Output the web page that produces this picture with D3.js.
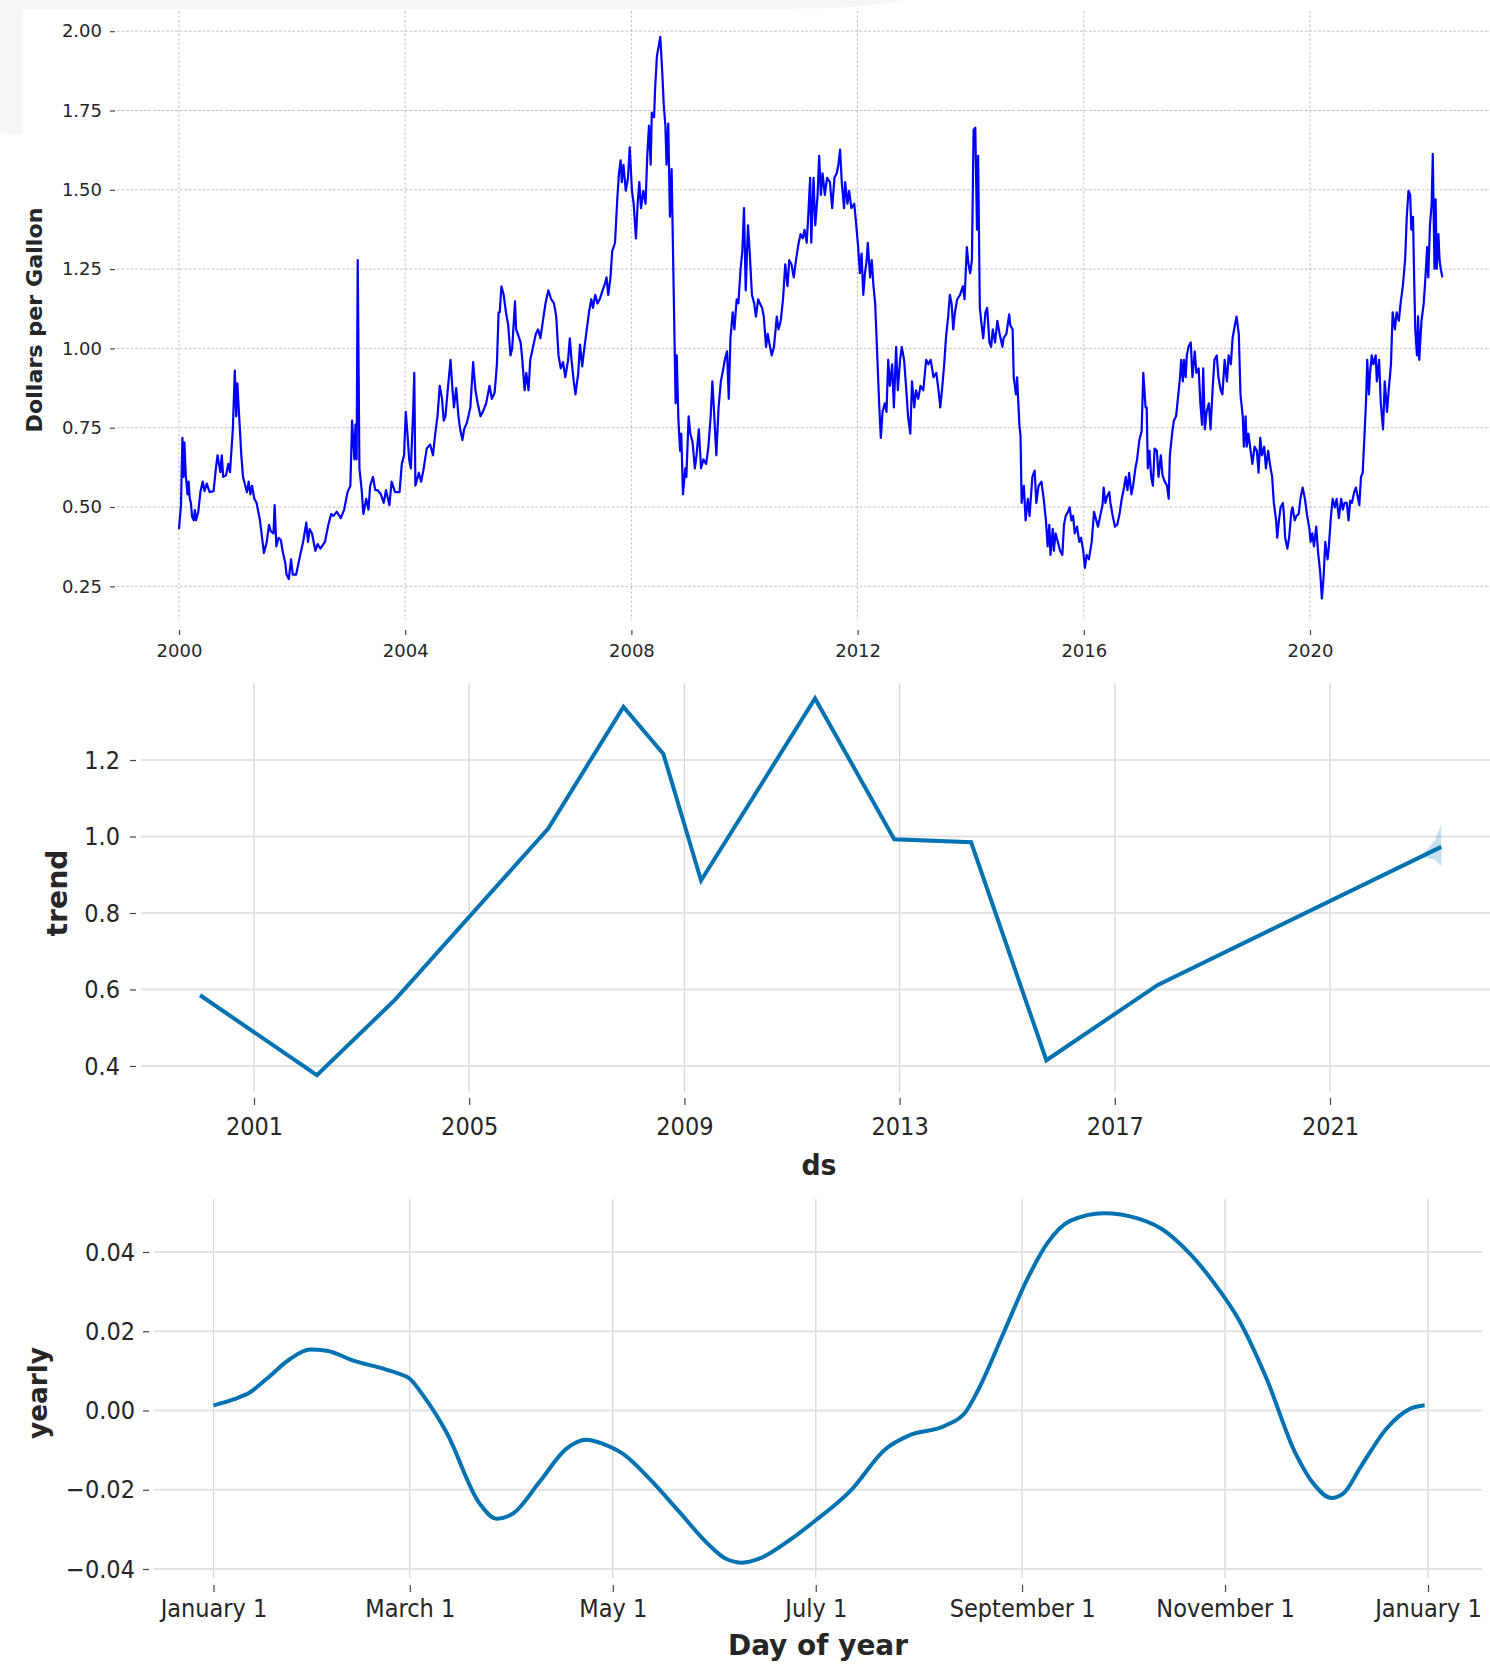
<!DOCTYPE html>
<html>
<head>
<meta charset="utf-8">
<script src="https://cdn.jsdelivr.net/npm/d3@7"></script>
<style>
  body { margin: 0; background: #fff; }
  svg text { fill: #262626; }
</style>
</head>
<body>
<script>
// weekly price (decimal year, dollars per gallon)
const priceYears = [
  2000.00, 2000.035, 2000.06, 2000.08, 2000.095, 2000.12, 2000.15, 2000.17, 2000.19, 2000.21,
  2000.23, 2000.26, 2000.28, 2000.30, 2000.34, 2000.38, 2000.42, 2000.45, 2000.49, 2000.54,
  2000.61, 2000.65, 2000.68, 2000.73, 2000.755, 2000.78, 2000.83, 2000.87, 2000.90, 2000.95,
  2000.985, 2001.01, 2001.03, 2001.07, 2001.10, 2001.13, 2001.17, 2001.20, 2001.23, 2001.26,
  2001.29, 2001.33, 2001.37, 2001.43, 2001.50, 2001.55, 2001.59, 2001.62, 2001.67, 2001.69,
  2001.72, 2001.76, 2001.80, 2001.83, 2001.88, 2001.90, 2001.94, 2001.98, 2002.01, 2002.07,
  2002.11, 2002.15, 2002.20, 2002.25, 2002.28, 2002.31, 2002.35, 2002.41, 2002.45, 2002.50,
  2002.58, 2002.64, 2002.69, 2002.73, 2002.79, 2002.86, 2002.92, 2002.98, 2003.03, 2003.06,
  2003.10, 2003.12, 2003.14, 2003.16, 2003.19, 2003.23, 2003.26, 2003.31, 2003.35, 2003.38,
  2003.43, 2003.47, 2003.51, 2003.57, 2003.62, 2003.66, 2003.72, 2003.76, 2003.82, 2003.90,
  2003.94, 2003.98, 2004.01, 2004.04, 2004.07, 2004.10, 2004.14, 2004.16, 2004.18, 2004.24,
  2004.28, 2004.32, 2004.38, 2004.44, 2004.49, 2004.53, 2004.57, 2004.61, 2004.65, 2004.68,
  2004.71, 2004.75, 2004.80, 2004.83, 2004.86, 2004.90, 2004.94, 2004.97, 2005.01, 2005.04,
  2005.09, 2005.15, 2005.20, 2005.24, 2005.28, 2005.33, 2005.37, 2005.43, 2005.49, 2005.53,
  2005.58, 2005.62, 2005.65, 2005.67, 2005.70, 2005.74, 2005.78, 2005.82, 2005.86, 2005.89,
  2005.94, 2005.96, 2005.99, 2006.04, 2006.07, 2006.11, 2006.14, 2006.18, 2006.21, 2006.26,
  2006.31, 2006.35, 2006.39, 2006.44, 2006.48, 2006.53, 2006.58, 2006.63, 2006.67, 2006.71,
  2006.75, 2006.79, 2006.83, 2006.88, 2006.91, 2006.94, 2006.98, 2007.01, 2007.06, 2007.09,
  2007.13, 2007.16, 2007.20, 2007.25, 2007.29, 2007.32, 2007.36, 2007.40, 2007.44, 2007.49,
  2007.53, 2007.56, 2007.59, 2007.63, 2007.66, 2007.71, 2007.75, 2007.78, 2007.81, 2007.83,
  2007.86, 2007.90, 2007.94, 2007.97, 2008.01, 2008.04, 2008.08, 2008.11, 2008.14, 2008.17,
  2008.21, 2008.25, 2008.28, 2008.31, 2008.34, 2008.36, 2008.40, 2008.42, 2008.45, 2008.51,
  2008.55, 2008.57, 2008.60, 2008.62, 2008.65, 2008.68, 2008.71, 2008.75, 2008.78, 2008.80,
  2008.83, 2008.86, 2008.88, 2008.91, 2008.95, 2008.97, 2009.01, 2009.04, 2009.08, 2009.12,
  2009.15, 2009.19, 2009.23, 2009.27, 2009.32, 2009.36, 2009.40, 2009.43, 2009.46, 2009.50,
  2009.54, 2009.58, 2009.61, 2009.65, 2009.69, 2009.72, 2009.75, 2009.79, 2009.82, 2009.86,
  2009.89, 2009.93, 2009.96, 2009.99, 2010.02, 2010.06, 2010.09, 2010.13, 2010.17, 2010.20,
  2010.24, 2010.27, 2010.31, 2010.34, 2010.38, 2010.41, 2010.45, 2010.48, 2010.52, 2010.57,
  2010.60, 2010.64, 2010.68, 2010.72, 2010.76, 2010.79, 2010.83, 2010.87, 2010.91, 2010.95,
  2010.99, 2011.03, 2011.06, 2011.10, 2011.13, 2011.16, 2011.18, 2011.22, 2011.25, 2011.29,
  2011.32, 2011.35, 2011.38, 2011.42, 2011.46, 2011.51, 2011.55, 2011.59, 2011.63, 2011.66,
  2011.69, 2011.72, 2011.76, 2011.78, 2011.82, 2011.85, 2011.89, 2011.94, 2011.97, 2012.01,
  2012.04, 2012.07, 2012.10, 2012.13, 2012.16, 2012.18, 2012.22, 2012.25, 2012.28, 2012.31,
  2012.35, 2012.38, 2012.41, 2012.44, 2012.48, 2012.51, 2012.54, 2012.57, 2012.61, 2012.64,
  2012.68, 2012.71, 2012.75, 2012.78, 2012.82, 2012.86, 2012.89, 2012.93, 2012.96, 2013.00,
  2013.03, 2013.07, 2013.11, 2013.16, 2013.21, 2013.25, 2013.29, 2013.34, 2013.39, 2013.43,
  2013.46, 2013.49, 2013.53, 2013.56, 2013.60, 2013.63, 2013.66, 2013.69, 2013.72, 2013.76,
  2013.81, 2013.86, 2013.89, 2013.93, 2013.96, 2013.99, 2014.02, 2014.05, 2014.08, 2014.11,
  2014.13, 2014.16, 2014.20, 2014.22, 2014.26, 2014.29, 2014.33, 2014.36, 2014.39, 2014.43,
  2014.47, 2014.51, 2014.56, 2014.58, 2014.63, 2014.68, 2014.70, 2014.74, 2014.76, 2014.80,
  2014.82, 2014.86, 2014.88, 2014.90, 2014.94, 2014.97, 2015.01, 2015.04, 2015.09, 2015.13,
  2015.16, 2015.20, 2015.25, 2015.29, 2015.33, 2015.36, 2015.39, 2015.41, 2015.45, 2015.47,
  2015.50, 2015.54, 2015.58, 2015.62, 2015.65, 2015.68, 2015.72, 2015.75, 2015.78, 2015.81,
  2015.84, 2015.88, 2015.92, 2015.95, 2015.99, 2016.02, 2016.05, 2016.09, 2016.14, 2016.18,
  2016.21, 2016.25, 2016.29, 2016.33, 2016.35, 2016.38, 2016.41, 2016.45, 2016.47, 2016.51,
  2016.55, 2016.59, 2016.63, 2016.67, 2016.71, 2016.74, 2016.77, 2016.80, 2016.84, 2016.87,
  2016.91, 2016.94, 2016.98, 2017.02, 2017.05, 2017.09, 2017.11, 2017.13, 2017.16, 2017.19,
  2017.22, 2017.25, 2017.29, 2017.32, 2017.36, 2017.39, 2017.43, 2017.47, 2017.50, 2017.52,
  2017.56, 2017.59, 2017.63, 2017.67, 2017.70, 2017.72, 2017.75, 2017.77, 2017.80, 2017.82,
  2017.85, 2017.89, 2017.92, 2017.96, 2017.99, 2018.03, 2018.06, 2018.09, 2018.11, 2018.14,
  2018.17, 2018.21, 2018.24, 2018.28, 2018.31, 2018.35, 2018.38, 2018.42, 2018.45, 2018.49,
  2018.53, 2018.56, 2018.60, 2018.63, 2018.67, 2018.70, 2018.74, 2018.77, 2018.81, 2018.83,
  2018.86, 2018.88, 2018.91, 2018.95, 2018.98, 2019.02, 2019.06, 2019.09, 2019.12, 2019.15,
  2019.19, 2019.22, 2019.26, 2019.29, 2019.33, 2019.36, 2019.40, 2019.42, 2019.45, 2019.48,
  2019.52, 2019.54, 2019.56, 2019.60, 2019.63, 2019.67, 2019.69, 2019.73, 2019.76, 2019.80,
  2019.83, 2019.87, 2019.91, 2019.95, 2019.99, 2020.01, 2020.04, 2020.07, 2020.11, 2020.14,
  2020.18, 2020.21, 2020.24, 2020.27, 2020.31, 2020.33, 2020.37, 2020.40, 2020.44, 2020.47,
  2020.51, 2020.55, 2020.58, 2020.61, 2020.65, 2020.68, 2020.71, 2020.74, 2020.78, 2020.81,
  2020.85, 2020.87, 2020.90, 2020.93, 2020.97, 2020.99, 2021.01, 2021.04, 2021.06, 2021.09,
  2021.12, 2021.16, 2021.18, 2021.22, 2021.25, 2021.29, 2021.32, 2021.36, 2021.39, 2021.43,
  2021.46, 2021.50, 2021.53, 2021.57, 2021.60, 2021.64, 2021.68, 2021.71, 2021.74, 2021.77,
  2021.79, 2021.82, 2021.84, 2021.86, 2021.89, 2021.91, 2021.93, 2021.97, 2022.01, 2022.04,
  2022.07, 2022.09, 2022.12, 2022.15, 2022.17, 2022.20, 2022.22, 2022.24, 2022.27, 2022.29,
  2022.31, 2022.34
];
const priceValues = [
  0.430, 0.506, 0.718, 0.595, 0.704, 0.600, 0.540, 0.580, 0.526, 0.513,
  0.470, 0.458, 0.490, 0.458, 0.485, 0.550, 0.580, 0.550, 0.574, 0.547,
  0.550, 0.620, 0.663, 0.610, 0.663, 0.595, 0.600, 0.636, 0.610, 0.745,
  0.930, 0.786, 0.890, 0.760, 0.663, 0.595, 0.567, 0.547, 0.580, 0.540,
  0.567, 0.526, 0.513, 0.458, 0.355, 0.390, 0.444, 0.424, 0.417, 0.506,
  0.376, 0.403, 0.396, 0.362, 0.321, 0.287, 0.273, 0.335, 0.287, 0.287,
  0.321, 0.355, 0.396, 0.451, 0.390, 0.430, 0.417, 0.362, 0.383, 0.369,
  0.390, 0.444, 0.478, 0.472, 0.485, 0.465, 0.492, 0.547, 0.567, 0.772,
  0.650, 0.760, 0.650, 1.278, 0.622, 0.553, 0.478, 0.526, 0.492, 0.567,
  0.595, 0.553, 0.553, 0.540, 0.513, 0.553, 0.506, 0.580, 0.547, 0.547,
  0.636, 0.663, 0.800, 0.731, 0.650, 0.622, 0.800, 0.923, 0.567, 0.608,
  0.580, 0.615, 0.684, 0.697, 0.663, 0.731, 0.786, 0.882, 0.841, 0.772,
  0.786, 0.868, 0.964, 0.882, 0.814, 0.875, 0.786, 0.745, 0.711, 0.745,
  0.766, 0.814, 0.957, 0.868, 0.827, 0.786, 0.800, 0.827, 0.882, 0.841,
  0.861, 0.950, 1.114, 1.114, 1.196, 1.169, 1.114, 1.073, 0.978, 0.999,
  1.148, 1.060, 1.046, 1.019, 0.964, 0.868, 0.923, 0.868, 0.964, 1.005,
  1.046, 1.060, 1.032, 1.094, 1.142, 1.183, 1.155, 1.142, 1.100, 0.978,
  0.937, 0.957, 0.909, 0.964, 1.032, 0.964, 0.896, 0.855, 0.923, 1.012,
  0.943, 0.991, 1.046, 1.114, 1.155, 1.128, 1.169, 1.142, 1.155, 1.183,
  1.203, 1.224, 1.169, 1.224, 1.306, 1.333, 1.470, 1.552, 1.593, 1.524,
  1.579, 1.497, 1.538, 1.634, 1.497, 1.456, 1.347, 1.456, 1.524, 1.442,
  1.497, 1.456, 1.607, 1.702, 1.579, 1.743, 1.729, 1.825, 1.921, 1.982,
  1.852, 1.770, 1.702, 1.579, 1.709, 1.415, 1.565, 1.142, 0.827, 0.978,
  0.773, 0.677, 0.731, 0.540, 0.622, 0.595, 0.786, 0.731, 0.704, 0.622,
  0.663, 0.745, 0.622, 0.650, 0.636, 0.690, 0.786, 0.896, 0.800, 0.663,
  0.814, 0.896, 0.923, 0.964, 0.991, 0.841, 1.032, 1.114, 1.060, 1.155,
  1.142, 1.251, 1.306, 1.442, 1.183, 1.388, 1.306, 1.169, 1.142, 1.100,
  1.155, 1.142, 1.128, 1.100, 1.005, 1.046, 1.005, 0.978, 1.005, 1.100,
  1.060, 1.087, 1.155, 1.265, 1.196, 1.278, 1.265, 1.224, 1.278, 1.326,
  1.360, 1.347, 1.374, 1.333, 1.429, 1.538, 1.333, 1.538, 1.388, 1.477,
  1.607, 1.484, 1.552, 1.484, 1.538, 1.524, 1.442, 1.538, 1.552, 1.579,
  1.627, 1.524, 1.442, 1.524, 1.456, 1.497, 1.442, 1.456, 1.401, 1.319,
  1.237, 1.299, 1.169, 1.237, 1.278, 1.333, 1.224, 1.278, 1.196, 1.142,
  0.964, 0.827, 0.718, 0.800, 0.827, 0.800, 0.964, 0.882, 0.950, 0.814,
  1.005, 0.868, 0.964, 1.005, 0.964, 0.868, 0.786, 0.731, 0.896, 0.814,
  0.868, 0.841, 0.882, 0.868, 0.964, 0.950, 0.964, 0.909, 0.923, 0.868,
  0.814, 0.868, 0.950, 1.032, 1.100, 1.169, 1.142, 1.060, 1.114, 1.155,
  1.169, 1.196, 1.155, 1.319, 1.265, 1.237, 1.278, 1.689, 1.696, 1.374,
  1.607, 1.128, 1.060, 1.032, 1.114, 1.128, 1.019, 1.005, 1.060, 1.019,
  1.087, 1.046, 1.005, 1.032, 1.046, 1.107, 1.073, 1.060, 0.909, 0.855,
  0.909, 0.759, 0.725, 0.513, 0.567, 0.458, 0.526, 0.472, 0.595, 0.615,
  0.513, 0.567, 0.580, 0.526, 0.458, 0.376, 0.444, 0.349, 0.431, 0.362,
  0.417, 0.390, 0.362, 0.349, 0.444, 0.472, 0.485, 0.499, 0.458, 0.472,
  0.417, 0.438, 0.390, 0.403, 0.362, 0.308, 0.349, 0.335, 0.390, 0.485,
  0.465, 0.438, 0.472, 0.506, 0.561, 0.513, 0.533, 0.547, 0.513, 0.472,
  0.438, 0.444, 0.478, 0.526, 0.561, 0.595, 0.553, 0.608, 0.540, 0.567,
  0.622, 0.650, 0.711, 0.738, 0.923, 0.814, 0.814, 0.622, 0.677, 0.595,
  0.567, 0.684, 0.677, 0.595, 0.663, 0.600, 0.580, 0.567, 0.526, 0.663,
  0.731, 0.772, 0.786, 0.855, 0.909, 0.964, 0.896, 0.964, 0.909, 0.978,
  1.005, 1.019, 0.909, 0.991, 0.923, 0.937, 0.827, 0.759, 0.937, 0.745,
  0.800, 0.827, 0.745, 0.882, 0.964, 0.978, 0.909, 0.868, 0.855, 0.964,
  0.896, 0.978, 0.950, 1.032, 1.073, 1.100, 1.046, 0.855, 0.786, 0.690,
  0.786, 0.690, 0.731, 0.677, 0.636, 0.690, 0.677, 0.608, 0.718, 0.663,
  0.690, 0.622, 0.677, 0.636, 0.595, 0.513, 0.458, 0.403, 0.458, 0.499,
  0.513, 0.472, 0.403, 0.369, 0.403, 0.485, 0.499, 0.458, 0.472, 0.478,
  0.526, 0.561, 0.526, 0.472, 0.431, 0.390, 0.417, 0.376, 0.438, 0.362,
  0.294, 0.212, 0.280, 0.390, 0.335, 0.369, 0.472, 0.526, 0.499, 0.526,
  0.465, 0.526, 0.492, 0.513, 0.513, 0.458, 0.520, 0.513, 0.547, 0.561,
  0.526, 0.506, 0.595, 0.608, 0.759, 0.841, 0.964, 0.855, 0.923, 0.978,
  0.950, 0.978, 0.896, 0.964, 0.827, 0.745, 0.896, 0.800, 0.868, 0.950,
  1.114, 1.060, 1.114, 1.087, 1.142, 1.196, 1.278, 1.415, 1.497, 1.484,
  1.374, 1.415, 1.224, 1.060, 0.978, 1.101, 0.964, 1.087, 1.142, 1.224,
  1.319, 1.224, 1.388, 1.456, 1.613, 1.251, 1.470, 1.251, 1.360, 1.278,
  1.251, 1.224
];
const priceTicksX = [2000, 2004, 2008, 2012, 2016, 2020];
const priceTicksY = [0.25, 0.50, 0.75, 1.00, 1.25, 1.50, 1.75, 2.00];

// trend component (changepoints) and its uncertainty at the forecast end
const trendYears = [2000.0, 2002.17, 2003.63, 2006.47, 2007.87, 2008.61, 2009.31, 2011.43, 2012.9, 2014.33, 2015.73, 2017.8, 2023.07];
const trendValues = [0.585, 0.376, 0.574, 1.021, 1.339, 1.216, 0.885, 1.361, 0.993, 0.985, 0.415, 0.612, 0.973];
const bandYears = [2022.35, 2022.75, 2022.95, 2023.07];
const bandLower = [0.924, 0.945, 0.94, 0.921];
const bandUpper = [0.924, 0.958, 0.99, 1.033];
const trendTicksX = [2001, 2005, 2009, 2013, 2017, 2021];
const trendTicksY = [0.4, 0.6, 0.8, 1.0, 1.2];

// yearly seasonality (day of year from Jan 1)
const yearlyDays = [0, 6, 11, 16, 23, 29, 34, 42, 50, 55, 59, 63, 70, 80, 85, 90, 98, 106, 112, 117,
  123, 131, 140, 149, 154, 159, 164, 173, 181, 191.5, 202, 209, 220, 226, 230, 237.5, 244.6, 250.4,
  257.6, 267.6, 277.7, 285, 293.5, 302, 308, 316.5, 325, 331, 336, 339.5, 345, 352.5, 359.6, 364];
const yearlyValues = [0.0013, 0.0028, 0.0046, 0.008, 0.013, 0.0154, 0.0151, 0.0126, 0.0108, 0.0095,
  0.008, 0.0038, -0.0055, -0.0235, -0.0273, -0.026, -0.018, -0.0097, -0.0074, -0.0084,
  -0.0109, -0.0172, -0.0256, -0.034, -0.0374, -0.0384, -0.0374, -0.0328, -0.0277, -0.0202,
  -0.0097, -0.0063, -0.0038, -0.0004, 0.0055, 0.0197, 0.0332, 0.042, 0.0479, 0.0498,
  0.0485, 0.0458, 0.0395, 0.0307, 0.0231, 0.008, -0.0105, -0.0189, -0.0221, -0.021,
  -0.0139, -0.0046, 0.0004, 0.0013];
const yearlyTickMonths = [0, 2, 4, 6, 8, 10, 12];
const yearlyTicksY = [-0.04, -0.02, 0.00, 0.02, 0.04];

const W = 1490, H = 1666;
const condFont = "'DejaVu Sans Condensed', 'DejaVu Sans', sans-serif";
const plainFont = "'DejaVu Sans', sans-serif";

function toDate(y) {
  const yr = Math.floor(y);
  const s = Date.UTC(yr, 0, 1), e = Date.UTC(yr + 1, 0, 1);
  return new Date(s + (y - yr) * (e - s));
}
function dayDate(d) { return new Date(Date.UTC(2017, 0, 1) + d * 86400000); }

const svg = d3.select("body").append("svg")
  .attr("width", W)
  .attr("height", H)
  .style("background", "#fff");

// faint leftover background in the top-left corner of the first figure
svg.append("path")
  .attr("d", "M0,0 H905 Q860,9 780,9 H22 V134 Q12,136 0,132 Z")
  .attr("fill", "#f6f6f6");

function styleAxis(g, fontSize, family) {
  g.select(".domain").remove();
  g.selectAll(".tick line").attr("stroke", "#444").attr("stroke-width", 1.2);
  g.selectAll(".tick text").attr("font-size", fontSize).attr("font-family", family)
    .attr("fill", "#262626").style("font-stretch", family === condFont ? "condensed" : "normal");
}

// ---------- top: raw price ----------
const xTop = d3.scaleUtc().domain([toDate(2000), toDate(2020)]).range([179, 1310]);
const yTop = d3.scaleLinear().domain([0.25, 2.0]).range([586.3, 31.2]);

const topGrid = svg.append("g").attr("class", "grid-top")
  .attr("stroke", "#b8b8b8").attr("stroke-width", 0.9).attr("stroke-dasharray", "2.5,2");
topGrid.selectAll(".v").data(priceTicksX).enter().append("line")
  .attr("x1", d => xTop(toDate(d))).attr("x2", d => xTop(toDate(d)))
  .attr("y1", 11).attr("y2", 620);
topGrid.selectAll(".h").data(priceTicksY).enter().append("line")
  .attr("x1", 117).attr("x2", W)
  .attr("y1", d => yTop(d)).attr("y2", d => yTop(d));

const priceData = priceYears.map((y, i) => ({ date: toDate(y), v: priceValues[i] }));
svg.append("path")
  .datum(priceData)
  .attr("fill", "none")
  .attr("stroke", "#0000ff")
  .attr("stroke-width", 2.2)
  .attr("stroke-linejoin", "round")
  .attr("d", d3.line().x(d => xTop(d.date)).y(d => yTop(d.v)));

const topY = svg.append("g").attr("transform", "translate(115,0)")
  .call(d3.axisLeft(yTop).tickValues(priceTicksY).tickFormat(d3.format(".2f")).tickSize(5).tickPadding(8));
styleAxis(topY, 18, plainFont);

const topX = svg.append("g").attr("transform", "translate(0,630)")
  .call(d3.axisBottom(xTop).tickValues(priceTicksX.map(toDate)).tickFormat(d3.utcFormat("%Y")).tickSize(5).tickPadding(9));
styleAxis(topX, 18, plainFont);

svg.append("text")
  .attr("transform", "translate(42,320) rotate(-90)")
  .attr("text-anchor", "middle")
  .attr("font-family", plainFont)
  .attr("font-weight", "bold")
  .attr("font-size", 21)
  .attr("textLength", 225)
  .attr("lengthAdjust", "spacingAndGlyphs")
  .text("Dollars per Gallon");

// ---------- middle: trend ----------
const xMid = d3.scaleUtc().domain([toDate(2001), toDate(2021)]).range([254, 1330]);
const yMid = d3.scaleLinear().domain([0.4, 1.2]).range([1066, 760]);

const midGrid = svg.append("g").attr("class", "grid-mid");
midGrid.selectAll(".v").data(trendTicksX).enter().append("line")
  .attr("x1", d => xMid(toDate(d))).attr("x2", d => xMid(toDate(d)))
  .attr("y1", 683).attr("y2", 1092)
  .attr("stroke", "#d6d6d6").attr("stroke-width", 1.3);
midGrid.selectAll(".h").data(trendTicksY).enter().append("line")
  .attr("x1", 141).attr("x2", W)
  .attr("y1", d => yMid(d)).attr("y2", d => yMid(d))
  .attr("stroke", "#e2e2e2").attr("stroke-width", 2);

const bandData = bandYears.map((y, i) => ({ date: toDate(y), lo: bandLower[i], hi: bandUpper[i] }));
svg.append("path")
  .datum(bandData)
  .attr("fill", "#0072B2")
  .attr("fill-opacity", 0.22)
  .attr("d", d3.area().x(d => xMid(d.date)).y0(d => yMid(d.lo)).y1(d => yMid(d.hi)));

const trendData = trendYears.map((y, i) => ({ date: toDate(y), v: trendValues[i] }));
svg.append("path")
  .datum(trendData)
  .attr("fill", "none")
  .attr("stroke", "#0072B2")
  .attr("stroke-width", 4)
  .attr("d", d3.line().x(d => xMid(d.date)).y(d => yMid(d.v)));

const midY = svg.append("g").attr("transform", "translate(136,0)")
  .call(d3.axisLeft(yMid).tickValues(trendTicksY).tickFormat(d3.format(".1f")).tickSize(6).tickPadding(10));
styleAxis(midY, 25, condFont);

const midX = svg.append("g").attr("transform", "translate(0,1098)")
  .call(d3.axisBottom(xMid).tickValues(trendTicksX.map(toDate)).tickFormat(d3.utcFormat("%Y")).tickSize(7).tickPadding(12));
styleAxis(midX, 25, condFont);

svg.append("text")
  .attr("transform", "translate(67,893) rotate(-90)")
  .attr("text-anchor", "middle")
  .attr("font-family", plainFont)
  .attr("font-weight", "bold")
  .attr("font-size", 28)
  .attr("textLength", 87)
  .attr("lengthAdjust", "spacingAndGlyphs")
  .text("trend");

svg.append("text")
  .attr("x", 819).attr("y", 1175)
  .attr("text-anchor", "middle")
  .attr("font-family", condFont)
  .style("font-stretch", "condensed")
  .attr("font-weight", "bold")
  .attr("font-size", 29)
  .attr("textLength", 35)
  .attr("lengthAdjust", "spacingAndGlyphs")
  .text("ds");

// ---------- bottom: yearly ----------
const xBot = d3.scaleUtc().domain([dayDate(0), dayDate(365)]).range([213.5, 1428]);
const yBot = d3.scaleLinear().domain([-0.04, 0.04]).range([1569, 1252]);
const monthTicks = yearlyTickMonths.map(m => new Date(Date.UTC(2017, m, 1)));

const botGrid = svg.append("g").attr("class", "grid-bot");
botGrid.selectAll(".v").data(monthTicks).enter().append("line")
  .attr("x1", d => xBot(d)).attr("x2", d => xBot(d))
  .attr("y1", 1199).attr("y2", 1578)
  .attr("stroke", "#d6d6d6").attr("stroke-width", 1.3);
botGrid.selectAll(".h").data(yearlyTicksY).enter().append("line")
  .attr("x1", 154).attr("x2", 1482)
  .attr("y1", d => yBot(d)).attr("y2", d => yBot(d))
  .attr("stroke", "#e2e2e2").attr("stroke-width", 2);

const yearlyData = yearlyDays.map((d, i) => ({ date: dayDate(d), v: yearlyValues[i] }));
svg.append("path")
  .datum(yearlyData)
  .attr("fill", "none")
  .attr("stroke", "#0072B2")
  .attr("stroke-width", 4)
  .attr("d", d3.line().curve(d3.curveMonotoneX).x(d => xBot(d.date)).y(d => yBot(d.v)));

const botY = svg.append("g").attr("transform", "translate(149,0)")
  .call(d3.axisLeft(yBot).tickValues(yearlyTicksY).tickFormat(d3.format(".2f")).tickSize(6).tickPadding(8));
styleAxis(botY, 25, condFont);

const botX = svg.append("g").attr("transform", "translate(0,1585)")
  .call(d3.axisBottom(xBot).tickValues(monthTicks).tickFormat(d3.utcFormat("%B %-d")).tickSize(7).tickPadding(7));
styleAxis(botX, 25, condFont);

svg.append("text")
  .attr("transform", "translate(46.5,1393) rotate(-90)")
  .attr("text-anchor", "middle")
  .attr("font-family", plainFont)
  .attr("font-weight", "bold")
  .attr("font-size", 27)
  .attr("textLength", 92)
  .attr("lengthAdjust", "spacingAndGlyphs")
  .text("yearly");

svg.append("text")
  .attr("x", 818).attr("y", 1655)
  .attr("text-anchor", "middle")
  .attr("font-family", condFont)
  .style("font-stretch", "condensed")
  .attr("font-weight", "bold")
  .attr("font-size", 29)
  .attr("textLength", 180)
  .attr("lengthAdjust", "spacingAndGlyphs")
  .text("Day of year");
</script>
</body>
</html>
